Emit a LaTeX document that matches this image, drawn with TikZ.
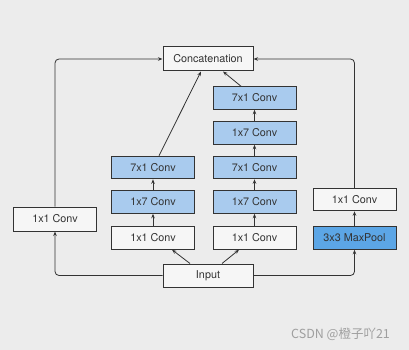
\documentclass[tikz,border=0pt]{standalone}
\usepackage{fontspec}
\setmainfont{TeX Gyre Heros}
\newfontfamily\cjk{Noto Sans CJK SC}
\usetikzlibrary{arrows.meta}
\definecolor{bg}{HTML}{ECECEC}
\definecolor{boxw}{HTML}{F6F6F6}
\definecolor{lblue}{HTML}{A9CBEE}
\definecolor{dblue}{HTML}{5CA6E6}
\definecolor{ink}{HTML}{333333}
\tikzset{
  blk/.style={draw=ink, line width=1pt, fill=boxw, minimum width=83pt, minimum height=22.5pt, inner sep=0pt, font=\fontsize{10.8}{12}\selectfont, text=ink},
  lb/.style={blk, fill=lblue},
  db/.style={blk, fill=dblue},
  arr/.style={draw=ink, line width=0.8pt, -{Stealth[length=4.5pt,width=3.5pt]}},
}
\begin{document}
\begin{tikzpicture}[x=1pt,y=-1pt]
\fill[bg] (0,0) rectangle (409,350);
\useasboundingbox (0,0) rectangle (409,350);
\node[blk, minimum width=90pt, minimum height=24pt] (concat) at (208,59) {Concatenation};
\node[lb] (m4) at (254.5,98) {7x1 Conv};
\node[lb] (m3) at (254.5,133) {1x7 Conv};
\node[lb] (m2) at (254.5,167.5) {7x1 Conv};
\node[lb] (m1) at (254.5,202) {1x7 Conv};
\node[blk] (m0) at (254.5,238) {1x1 Conv};
\node[lb] (l2) at (153,167.5) {7x1 Conv};
\node[lb] (l1) at (153,202) {1x7 Conv};
\node[blk] (l0) at (153,238) {1x1 Conv};
\node[blk, minimum height=24pt] (left) at (55,219) {1x1 Conv};
\node[blk] (r1) at (354.5,199.5) {1x1 Conv};
\node[db] (pool) at (354.5,238) {3x3 MaxPool};
\node[blk, minimum width=90pt, minimum height=23pt] (input) at (208,275.5) {Input};
\node[text=gray!75, font=\cjk\fontsize{12.5}{14}\selectfont, anchor=west, inner sep=0pt] (wm) at (291,334) {CSDN @橙子吖21};

\draw[arr, rounded corners=4pt] (input.west) -| (left.south);
\draw[arr, rounded corners=4pt] (left.north) |- (concat.west);
\draw[arr, rounded corners=4pt] (input.east) -| (pool.south);
\draw[arr] (pool) -- (r1);
\draw[arr, rounded corners=4pt] (r1.north) |- (concat.east);
\draw[arr] ([xshift=-18pt]input.north) -- ([xshift=19pt]l0.south);
\draw[arr] ([xshift=14pt]input.north) -- ([xshift=-15.5pt]m0.south);
\draw[arr] (l0) -- (l1);
\draw[arr] (l1) -- (l2);
\draw[arr] ([xshift=6pt]l2.north) -- ([xshift=-7pt]concat.south);
\draw[arr] (m0) -- (m1);
\draw[arr] (m1) -- (m2);
\draw[arr] (m2) -- (m3);
\draw[arr] (m3) -- (m4);
\draw[arr] ([xshift=-13.5pt]m4.north) -- ([xshift=15pt]concat.south);
\end{tikzpicture}
\end{document}
